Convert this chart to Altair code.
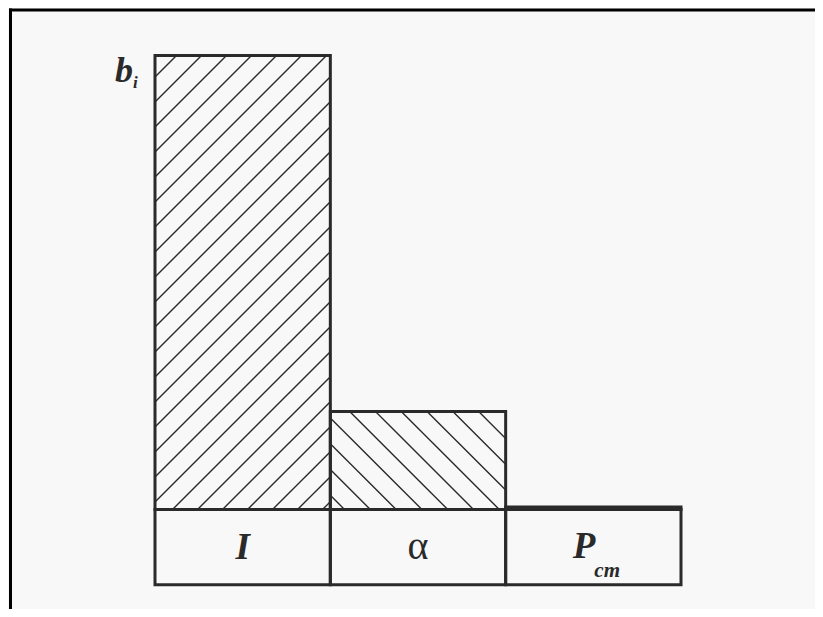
import altair as alt
import pandas as pd

# ---- data ----
categories = ["I", "α", "P_cm"]
b_values = [100.0, 21.6, 0.55]          # relative contribution b_i
label_main = ["I", "α", "P"]
label_sub = ["", "", "cm"]
label_weight = ["bold", "normal", "bold"]
label_style = ["italic", "normal", "italic"]
hatch_dirs = ["/", "\\", ""]
axis_main = "b"
axis_sub = "i"

# ---- layout (styling) ----
W, H = 807, 601
PX_X = 175.33          # px per category width unit
PX_Y = 4.54            # px per b unit
X_DOMAIN = [-0.8384, 3.7643]
Y_DOMAIN = [-21.92, 110.46]
LABEL_ROW = 16.6       # height of label row (in b units)
HATCH = {"/": (25.0, 17.5), "\\": (25.8, 14.2)}   # spacing px, phase px
INK = "#2a2a2a"

n = len(categories)
bars = pd.DataFrame({
    "cat": categories,
    "x0": list(range(n)),
    "x1": [i + 1 for i in range(n)],
    "y0": [0.0] * n,
    "y1": b_values,
})
boxes = pd.DataFrame({
    "cat": categories,
    "x0": list(range(n)),
    "x1": [i + 1 for i in range(n)],
    "y0": [-LABEL_ROW] * n,
    "y1": [0.0] * n,
})
labels = pd.DataFrame({
    "xc": [i + 0.5 for i in range(n)],
    "y": [-11.0] * n,
    "main": label_main,
    "sub": label_sub,
    "w": label_weight,
    "s": label_style,
})

# hatch segments clipped to each bar, computed from the bar values
segs = []
for i, (b, d) in enumerate(zip(b_values, hatch_dirs)):
    if not d:
        continue
    w = PX_X
    h = b * PX_Y
    sp, ph = HATCH[d]
    k = -50
    while True:
        c = ph + k * sp
        k += 1
        if d == "/":
            xa, xb = max(0.0, c), min(w, c + h)
            if c > w:
                break
            if xa < xb:
                segs.append({"xa": i + xa / PX_X, "ya": (xa - c) / PX_Y,
                             "xb": i + xb / PX_X, "yb": (xb - c) / PX_Y})
        else:
            xa, xb = max(0.0, c - h), min(w, c)
            if c - h > w:
                break
            if xa < xb:
                segs.append({"xa": i + xa / PX_X, "ya": (c - xa) / PX_Y,
                             "xb": i + xb / PX_X, "yb": (c - xb) / PX_Y})
hatch = pd.DataFrame(segs)

xs = alt.Scale(domain=X_DOMAIN, nice=False, zero=False)
ys = alt.Scale(domain=Y_DOMAIN, nice=False, zero=False)

hatch_layer = alt.Chart(hatch).mark_rule(color=INK, strokeWidth=1.4).encode(
    x=alt.X("xa:Q", scale=xs, axis=None),
    y=alt.Y("ya:Q", scale=ys, axis=None),
    x2="xb:Q",
    y2="yb:Q",
)

bar_layer = alt.Chart(bars).mark_rect(
    fill="transparent", stroke=INK, strokeWidth=3
).encode(
    x=alt.X("x0:Q", scale=xs, axis=None),
    x2="x1:Q",
    y=alt.Y("y0:Q", scale=ys, axis=None),
    y2="y1:Q",
)

box_layer = alt.Chart(boxes).mark_rect(
    fill="transparent", stroke=INK, strokeWidth=3
).encode(
    x=alt.X("x0:Q", scale=xs, axis=None),
    x2="x1:Q",
    y=alt.Y("y0:Q", scale=ys, axis=None),
    y2="y1:Q",
)

base_txt = alt.Chart(labels)
center_bold = base_txt.transform_filter(
    (alt.datum.sub == "") & (alt.datum.w == "bold")
).mark_text(font="Liberation Serif", fontSize=37, fontWeight="bold",
            fontStyle="italic", align="center", baseline="alphabetic",
            color=INK).encode(
    x=alt.X("xc:Q", scale=xs, axis=None),
    y=alt.Y("y:Q", scale=ys, axis=None),
    text="main:N",
)
center_plain = base_txt.transform_filter(
    (alt.datum.sub == "") & (alt.datum.w == "normal")
).mark_text(font="Liberation Serif", fontSize=40, fontWeight="normal",
            align="center", baseline="alphabetic", color=INK).encode(
    x=alt.X("xc:Q", scale=xs, axis=None),
    y=alt.Y("y:Q", scale=ys, axis=None),
    text="main:N",
)
with_sub_main = base_txt.transform_filter(alt.datum.sub != "").mark_text(
    font="Liberation Serif", fontSize=37, fontWeight="bold",
    fontStyle="italic", align="right", baseline="alphabetic",
    dx=2, dy=-1, color=INK).encode(
    x=alt.X("xc:Q", scale=xs, axis=None),
    y=alt.Y("y:Q", scale=ys, axis=None),
    text="main:N",
)
with_sub_sub = base_txt.transform_filter(alt.datum.sub != "").mark_text(
    font="Liberation Serif", fontSize=21, fontWeight="bold",
    fontStyle="italic", align="left", baseline="alphabetic",
    dx=1, dy=18, color=INK).encode(
    x=alt.X("xc:Q", scale=xs, axis=None),
    y=alt.Y("y:Q", scale=ys, axis=None),
    text="sub:N",
)

axis_df = pd.DataFrame({"x": [0.0], "y": [max(b_values)],
                        "main": [axis_main], "sub": [axis_sub]})
axis_b = alt.Chart(axis_df).mark_text(
    font="Liberation Serif", fontSize=36, fontWeight="bold",
    fontStyle="italic", align="right", baseline="alphabetic",
    dx=-22, dy=26.5, color=INK).encode(
    x=alt.X("x:Q", scale=xs, axis=None),
    y=alt.Y("y:Q", scale=ys, axis=None),
    text="main:N",
)
axis_i = alt.Chart(axis_df).mark_text(
    font="Liberation Serif", fontSize=17, fontWeight="bold",
    fontStyle="italic", align="left", baseline="alphabetic",
    dx=-22, dy=32.5, color=INK).encode(
    x=alt.X("x:Q", scale=xs, axis=None),
    y=alt.Y("y:Q", scale=ys, axis=None),
    text="sub:N",
)

frame_left = alt.Chart(axis_df).mark_rule(color="black", strokeWidth=3).encode(
    x=alt.value(2.5), y=alt.value(0.5), y2=alt.value(H)
)
frame_top = alt.Chart(axis_df).mark_rule(color="black", strokeWidth=3).encode(
    x=alt.value(1), x2=alt.value(W), y=alt.value(2)
)

chart = alt.layer(
    hatch_layer, bar_layer, box_layer,
    center_bold, center_plain, with_sub_main, with_sub_sub,
    axis_b, axis_i, frame_left, frame_top,
).properties(
    width=W, height=H,
    autosize=alt.AutoSizeParams(type="none"),
    padding=0,
    background="#f8f8f8",
).configure_view(stroke=None)

chart.save("out.html", embed_options={"renderer": "svg", "actions": False})
